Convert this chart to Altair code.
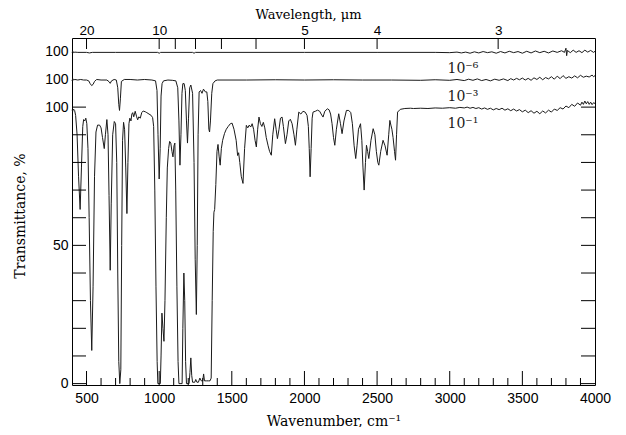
import altair as alt
import pandas as pd

# ---------------- spectra: (wavenumber cm^-1, transmittance %) ----------------
# bottom spectrum, 10^-1 (baseline 100)
pts_1 = [
    (400, 99.0), (405, 98.5), (410, 99.3), (418, 98.8), (425, 97), (435, 90), (445, 75), (456, 63), (465, 78),
    (474, 93), (480, 95.5), (488, 95), (495, 96), (502, 94), (510, 85), (518, 60), (527, 30), (536, 12),
    (545, 35), (555, 75), (565, 91), (576, 93.5), (590, 93.5), (600, 92.5), (610, 89), (622, 85), (630, 90),
    (640, 95.5), (648, 90), (655, 68), (663, 41), (670, 65), (680, 90), (691, 94.8), (700, 94), (708, 80),
    (715, 40), (722, 8), (729, 0), (736, 5), (742, 50), (748, 88), (755, 94.5), (762, 92), (770, 78),
    (778, 61.5), (785, 80), (792, 94), (798, 96), (806, 95), (812, 97.5), (818, 98), (825, 96.5), (835, 98.5),
    (845, 96.5), (852, 95.4), (860, 96.5), (870, 96), (880, 98), (890, 98.6), (905, 98.3), (915, 98),
    (930, 97.5), (945, 97), (955, 96.2), (962, 93), (970, 70), (978, 35), (986, 8), (991, 0), (1000, 0),
    (1008, 0), (1013, 10), (1019, 25.5), (1026, 20), (1033, 15.3), (1040, 30), (1049, 60), (1056, 78),
    (1065, 85), (1072, 87.6), (1080, 87), (1088, 84), (1095, 82), (1102, 86), (1108, 87), (1114, 70),
    (1122, 35), (1130, 8), (1136, 0), (1150, 0), (1158, 0), (1163, 20), (1170, 40), (1176, 30), (1182, 8),
    (1188, 0), (1200, 0), (1206, 0), (1212, 4), (1218, 9.3), (1224, 3), (1230, 0.5), (1245, 0.5), (1252, 1.5),
    (1260, 0.5), (1270, 0.5), (1280, 2), (1290, 1), (1300, 1), (1306, 3.5), (1312, 1), (1325, 1), (1340, 1),
    (1350, 1), (1358, 2), (1365, 30), (1372, 55), (1377, 62), (1382, 63), (1390, 72), (1398, 84), (1405, 86.5),
    (1413, 82), (1420, 79), (1428, 85), (1437, 88), (1450, 90.5), (1462, 92), (1475, 93), (1490, 94),
    (1502, 94.2), (1515, 92), (1530, 88), (1540, 82.5), (1547, 83.5), (1555, 80), (1565, 75), (1577, 72.4),
    (1588, 85), (1600, 93.4), (1610, 92.5), (1620, 93.5), (1630, 92.8), (1640, 94), (1650, 92), (1660, 88),
    (1669, 85.6), (1678, 92), (1687, 96.4), (1697, 94), (1707, 93), (1717, 94.5), (1727, 92.5), (1737, 89),
    (1750, 86), (1760, 84), (1772, 82.6), (1782, 90), (1795, 95.8), (1805, 92), (1814, 88.6), (1825, 92),
    (1835, 96), (1846, 96.4), (1855, 93), (1869, 86.8), (1880, 90), (1892, 95), (1903, 95.6), (1915, 94),
    (1928, 90), (1938, 86.2), (1948, 92), (1961, 98.2), (1975, 97.5), (1990, 98.5), (2005, 98.2), (2018, 97),
    (2027, 93), (2033, 85), (2039, 74.8), (2046, 85), (2053, 96), (2059, 98.2), (2075, 98.5), (2090, 98.9),
    (2105, 98.5), (2115, 97.5), (2128, 96.4), (2140, 98.5), (2158, 99.4), (2170, 99), (2180, 97.5), (2190, 94),
    (2200, 89), (2209, 86.2), (2220, 92), (2236, 97.6), (2248, 94), (2259, 90.4), (2272, 95), (2289, 98.8),
    (2305, 98.8), (2319, 98), (2330, 94), (2342, 86), (2353, 81.4), (2362, 86), (2372, 92), (2386, 94),
    (2395, 88), (2403, 78), (2411, 70), (2420, 80), (2427, 86.2), (2435, 84), (2443, 81.4), (2458, 88),
    (2473, 92.2), (2485, 90), (2495, 84), (2505, 80), (2512, 79), (2525, 84), (2541, 88), (2555, 86),
    (2569, 82.6), (2580, 90), (2588, 95.2), (2595, 93.5), (2602, 92), (2610, 89), (2620, 84), (2627, 80.8),
    (2634, 90), (2641, 98.2), (2660, 99.2), (2691, 99.5), (2730, 99.6), (2750, 99.5), (2800, 99.6), (2850, 99.5),
    (2900, 99.7), (2950, 99.6), (3000, 99.8), (3040, 99.6), (3070, 99.9), (3100, 99.7), (3120, 100.0),
    (3140, 99.6), (3160, 99.9), (3180, 99.5), (3200, 99.8), (3220, 99.3), (3240, 99.7), (3260, 99.2),
    (3280, 99.6), (3300, 99.0), (3320, 99.5), (3340, 99.1), (3360, 99.6), (3380, 98.9), (3400, 99.4),
    (3420, 98.7), (3440, 99.3), (3460, 98.6), (3480, 99.1), (3500, 98.3), (3520, 98.9), (3540, 98.0),
    (3560, 98.7), (3580, 97.8), (3600, 98.5), (3620, 97.6), (3640, 98.6), (3660, 97.9), (3680, 98.9),
    (3700, 98.2), (3720, 99.3), (3740, 98.8), (3760, 99.8), (3780, 99.3), (3800, 100.4), (3820, 99.8),
    (3840, 101.0), (3860, 100.3), (3880, 101.5), (3900, 100.7), (3910, 101.8), (3920, 101.0), (3930, 102.2),
    (3940, 101.2), (3950, 102.0), (3960, 101.0), (3970, 101.8), (3980, 100.9), (3990, 101.6), (4000, 101.3),
]

# middle spectrum, 10^-3 (its 100 % level drawn 10 units higher)
pts_3 = [
    (400, 109.5), (405, 110.3), (410, 109.8), (420, 110), (440, 109.8), (460, 110), (480, 109.8), (500, 109.8),
    (515, 109.5), (525, 108.5), (535, 107.8), (545, 108.2), (555, 109.3), (570, 110), (600, 109.8), (640, 109.8),
    (655, 109.2), (663, 108.6), (672, 109.5), (690, 110), (705, 109.8), (715, 107), (722, 101), (727, 98.8),
    (733, 103), (740, 109.3), (760, 110), (800, 110), (850, 109.8), (900, 110), (950, 109.8), (975, 109.5),
    (985, 106), (992, 90), (1000, 74), (1007, 85), (1013, 104), (1020, 108.5), (1030, 109.5), (1060, 109.8),
    (1090, 109.7), (1115, 109.5), (1128, 107), (1136, 95), (1143, 79), (1150, 90), (1157, 105), (1163, 108.5),
    (1172, 108.5), (1180, 106), (1188, 95), (1195, 87), (1202, 96), (1210, 107), (1218, 108), (1230, 105),
    (1240, 80), (1248, 45), (1256, 25), (1262, 50), (1268, 90), (1275, 105.5), (1285, 106), (1295, 105),
    (1305, 106.5), (1318, 105.5), (1328, 105.5), (1335, 102), (1342, 92), (1347, 91), (1353, 95), (1362, 105),
    (1370, 108.5), (1385, 109.5), (1400, 109.8), (1600, 109.8), (1800, 109.9), (2000, 109.8), (2200, 109.9),
    (2400, 109.8), (2600, 109.8), (2800, 109.7), (2900, 109.9), (3000, 109.7), (3050, 110.0), (3100, 109.6),
    (3130, 110.1), (3160, 109.7), (3190, 110.2), (3220, 109.6), (3250, 110.0), (3280, 109.5), (3310, 110.1),
    (3340, 109.7), (3370, 110.2), (3400, 109.6), (3420, 110.3), (3440, 109.8), (3460, 110.4), (3480, 109.9),
    (3500, 110.5), (3520, 109.8), (3540, 110.4), (3560, 109.7), (3580, 110.6), (3600, 110.0), (3620, 110.8),
    (3640, 109.9), (3660, 110.7), (3680, 110.2), (3700, 111.0), (3720, 110.1), (3740, 111.2), (3760, 110.3),
    (3780, 111.4), (3800, 110.4), (3820, 111.0), (3840, 110.5), (3860, 111.3), (3880, 110.6), (3900, 111.5),
    (3920, 110.8), (3940, 111.2), (3960, 110.9), (3980, 111.6), (3990, 111.0), (4000, 111.4),
]

# top spectrum, 10^-6 (its 100 % level drawn 20 units higher)
pts_6 = [
    (400, 119.8), (405, 120.3), (410, 119.7), (420, 119.9), (440, 119.8), (500, 119.8), (520, 119.6),
    (540, 119.8), (700, 119.8), (990, 119.8), (1000, 119.5), (1010, 119.8), (1230, 119.8), (1240, 119.5),
    (1250, 119.8), (2000, 119.8), (2500, 119.8), (2900, 119.8), (3000, 119.7), (3050, 119.9), (3080, 119.6),
    (3110, 119.9), (3140, 119.5), (3170, 120.0), (3200, 119.6), (3230, 120.1), (3260, 119.7), (3290, 120.0),
    (3320, 119.5), (3350, 120.1), (3380, 119.6), (3410, 120.2), (3440, 119.7), (3470, 120.1), (3500, 119.5),
    (3530, 120.2), (3560, 119.6), (3590, 120.3), (3620, 119.7), (3650, 120.2), (3680, 119.6), (3710, 120.3),
    (3740, 119.8), (3770, 120.4), (3790, 119.8), (3800, 121.3), (3805, 118.6), (3810, 120.5), (3830, 119.7),
    (3850, 120.6), (3870, 119.8), (3890, 120.4), (3910, 119.7), (3930, 120.6), (3950, 119.9), (3970, 120.5),
    (3990, 119.8), (4000, 120.2),
]

# curve labels
label_text = ["10⁻⁶", "10⁻³", "10⁻¹"]
label_wn = [2985, 2985, 2985]
label_t = [113.8, 103.8, 94.0]

# axis ticks
x_major = [500, 1000, 1500, 2000, 2500, 3000, 3500]
x_minor = [v for v in range(500, 4000, 100) if v % 500 != 0]
x_labels = [500, 1000, 1500, 2000, 2500, 3000, 3500, 4000]
y_ticks = [0, 10, 20, 30, 40, 50, 60, 70, 80, 90, 100]
y_labels = [0, 50, 100, 110, 120]
lam_ticks = [20, 10, 9, 8, 7, 6, 5, 4, 3]
lam_labels = [20, 10, 5, 4, 3]

W, H = 523, 347
SANS = "Liberation Sans"
SERIF = "DejaVu Serif"
INK = "#1a1a1a"


def frame(pts, name):
    return pd.DataFrame({"wn": [p[0] for p in pts], "t": [p[1] for p in pts], "series": name})


spec = pd.concat([frame(pts_1, "1e-1"), frame(pts_3, "1e-3"), frame(pts_6, "1e-6")])

xs = alt.Scale(domain=[400, 4000], nice=False, zero=False)
ys = alt.Scale(domain=[-0.5, 125], nice=False, zero=False)

y_axis = alt.Axis(
    title="Transmittance, %", values=y_labels, labelExpr="datum.value > 100 ? '100' : datum.label",
    ticks=False, domain=False, grid=False, labelPadding=4,
    labelFont=SANS, labelFontSize=14, labelColor="black",
    titleFont=SERIF, titleFontSize=14, titleFontWeight="normal", titleColor="black",
    titleX=-52, titleY=H / 2 + 4, titleAngle=270, titleAlign="center", titleBaseline="middle")

lines = alt.Chart(spec).mark_line(color=INK, strokeWidth=1).encode(
    x=alt.X("wn:Q", scale=xs, axis=alt.Axis(
        title="Wavenumber, cm⁻¹", values=x_labels, format="d", labelFlush=False, ticks=False,
        domain=False, grid=False, labelPadding=6, labelFont=SANS, labelFontSize=14, labelColor="black",
        titleFont=SERIF, titleFontSize=14, titleFontWeight="normal", titleColor="black",
        titleX=W / 2, titleY=36, titleAlign="center", titleBaseline="middle")),
    y=alt.Y("t:Q", scale=ys, axis=y_axis),
    detail="series:N",
)

bottom_major = alt.Chart(pd.DataFrame({"wn": x_major})).mark_rule(color="black", strokeWidth=1).encode(
    x=alt.X("wn:Q", scale=xs, axis=None), y=alt.value(H), y2=alt.value(H - 14))
bottom_minor = alt.Chart(pd.DataFrame({"wn": x_minor})).mark_rule(color="black", strokeWidth=1).encode(
    x=alt.X("wn:Q", scale=xs, axis=None), y=alt.value(H), y2=alt.value(H - 7))

left_ticks = alt.Chart(pd.DataFrame({"t": y_ticks})).mark_rule(color="black", strokeWidth=1).encode(
    y=alt.Y("t:Q", scale=ys, axis=y_axis), x=alt.value(0), x2=alt.value(14))
right_ticks = alt.Chart(pd.DataFrame({"t": y_ticks})).mark_rule(color="black", strokeWidth=1).encode(
    y=alt.Y("t:Q", scale=ys, axis=y_axis), x=alt.value(W - 14), x2=alt.value(W))

top_ticks = alt.Chart(pd.DataFrame({"lam": lam_ticks})).transform_calculate(
    wn="10000 / datum.lam").mark_rule(color="black", strokeWidth=1).encode(
    x=alt.X("wn:Q", scale=xs, axis=alt.Axis(
        orient="top", title="Wavelength, μm", values=[10000 / l for l in lam_labels],
        labelExpr="'' + round(10000 / datum.value)", labelFlush=False, ticks=False, tickSize=0,
        domain=False, grid=False, labelPadding=1,
        labelFont=SANS, labelFontSize=13.5, labelColor="black",
        titleFont=SERIF, titleFontSize=13, titleFontWeight="normal", titleColor="black",
        titleX=236, titleY=-23.5, titleAlign="center", titleBaseline="middle")),
    y=alt.value(0), y2=alt.value(11))

labels = alt.Chart(pd.DataFrame({"wn": label_wn, "t": label_t, "txt": label_text})).mark_text(
    align="left", baseline="middle", font=SERIF, fontSize=14, color=INK).encode(
    x=alt.X("wn:Q", scale=xs, axis=None), y=alt.Y("t:Q", scale=ys, axis=y_axis), text="txt:N")

chart = alt.layer(lines, bottom_major, bottom_minor, left_ticks, right_ticks, top_ticks, labels).resolve_axis(
    x="independent").properties(
    width=W, height=H, autosize=alt.AutoSizeParams(type="none"),
    padding={"left": 64, "top": 30, "right": 23, "bottom": 42},
    background="white",
).configure_view(stroke="black", strokeWidth=1)

chart.save("out.html", embed_options={"renderer": "svg", "actions": False})
